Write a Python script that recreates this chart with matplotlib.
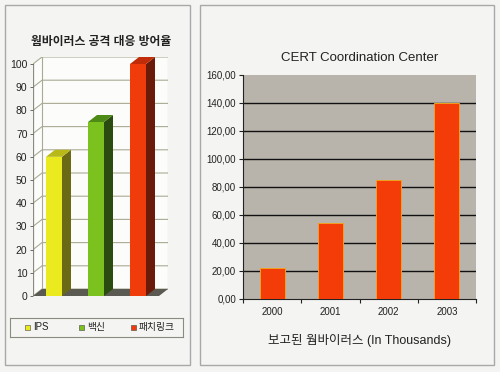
import matplotlib
matplotlib.use("Agg")
import matplotlib.pyplot as plt
from matplotlib.patches import Rectangle, Polygon

plt.rcParams['font.family'] = ['Liberation Sans', 'Noto Sans CJK KR', 'DejaVu Sans']

# ---- data ----
left_title = "웜바이러스 공격 대응 방어율"
left_categories = ["IPS", "백신", "패치링크"]
left_values = [60, 75, 100]
left_yticks = [0, 10, 20, 30, 40, 50, 60, 70, 80, 90, 100]

right_title = "CERT Coordination Center"
right_categories = ["2000", "2001", "2002", "2003"]
right_values = [22.5, 54, 85, 140]
right_yticks = [0, 20, 40, 60, 80, 100, 120, 140, 160]
right_ytick_labels = ["0,00", "20,00", "40,00", "60,00", "80,00", "100,00",
                      "120,00", "140,00", "160,00"]
right_xlabel = "보고된 웜바이러스 (In Thousands)"

W, H = 500, 372
fig = plt.figure(figsize=(W / 100, H / 100), dpi=100)
fig.patch.set_facecolor("#f4f4f2")

def frac(x0, y0, x1, y1):
    return [x0 / W, 1 - y1 / H, (x1 - x0) / W, (y1 - y0) / H]

# panel borders
bg = fig.add_axes([0, 0, 1, 1])
bg.set_xlim(0, W); bg.set_ylim(H, 0); bg.axis("off")
bg.add_patch(Rectangle((5, 5), 185, 360, fill=False, ec="#a8a8a8", lw=1))
bg.add_patch(Rectangle((200, 5), 294, 360, fill=False, ec="#a8a8a8", lw=1))

# ---------------- left 3D-like chart ----------------
front_faces = ["#eaea1e", "#7cc21e", "#f03c0a"]
side_faces = ["#6a6a14", "#2a4c10", "#6a1a08"]
top_faces = ["#b8b818", "#4e8a16", "#c02c08"]
grid_c = "#aaaa94"

fig.text(101 / W, 1 - 42 / H, left_title, ha="center", va="center",
         fontsize=8.5, fontweight="bold", color="#222222")

axL = fig.add_axes(frac(33, 57, 168, 296))
px_per_unit_y = (296 - 64) / 100.0
px_per_cat = 42.0
dy = 7 / px_per_unit_y
dx = 9 / px_per_cat
x0, x1 = -0.5, 2.5
axL.set_xlim(x0, (168 - 54) / px_per_cat)
axL.set_ylim(0, 100 + (64 - 57) / px_per_unit_y)
axL.set_facecolor("none")
for s in axL.spines.values():
    s.set_visible(False)

# back wall background
axL.add_patch(Polygon([(x0, 0), (x0 + dx, dy), (x1 + dx, dy), (x1 + dx, 100 + dy),
                       (x0 + dx, 100 + dy), (x0, 100)], closed=True,
                      fc="#fcfcfa", ec="none", zorder=0))
for v in left_yticks:
    axL.plot([x0, x0 + dx, x1 + dx], [v, v + dy, v + dy], color=grid_c, lw=0.8, zorder=1)
axL.plot([x0 + dx, x0 + dx], [dy, 100 + dy], color=grid_c, lw=0.8, zorder=1)
axL.plot([x1 + dx, x1 + dx], [dy, 100 + dy], color=grid_c, lw=0.8, zorder=1)
axL.plot([x0, x0], [0, 100], color="#8a8a80", lw=0.9, zorder=1)
# floor
axL.add_patch(Polygon([(x0, 0), (x1, 0), (x1 + dx, dy), (x0 + dx, dy)], closed=True,
                      fc="#5a5a52", ec="none", zorder=2))

bw = 16 / px_per_cat
xs = list(range(len(left_categories)))
axL.bar(xs, left_values, width=bw, color=front_faces, edgecolor="none", zorder=4)
for i, v in enumerate(left_values):
    xl, xr = i - bw / 2, i + bw / 2
    axL.add_patch(Polygon([(xr, 0), (xr + dx, dy), (xr + dx, v + dy), (xr, v)],
                          closed=True, fc=side_faces[i], ec="none", zorder=3))
    axL.add_patch(Polygon([(xl, v), (xr, v), (xr + dx, v + dy), (xl + dx, v + dy)],
                          closed=True, fc=top_faces[i], ec="none", zorder=3))

axL.set_xticks([])
axL.set_yticks(left_yticks)
axL.set_yticklabels([str(v) for v in left_yticks], fontsize=7.5, color="#222222")
axL.tick_params(axis="y", length=2, width=0.6, color="#555555", pad=2)

# legend
legL = fig.add_axes(frac(10, 318, 183, 337))
legL.set_xlim(10, 183); legL.set_ylim(337, 318)
legL.set_xticks([]); legL.set_yticks([])
legL.set_facecolor("#f4f4f2")
for s in legL.spines.values():
    s.set_color("#8a8a80"); s.set_linewidth(0.8)
leg_x = [25, 79, 131]
for i, name in enumerate(left_categories):
    legL.add_patch(Rectangle((leg_x[i], 325), 5, 5, fc=front_faces[i], ec="#444444", lw=0.4))
    legL.text(leg_x[i] + 8, 327.5, name, fontsize=7, va="center", ha="left", color="#222222")

# ---------------- right chart ----------------
axR = fig.add_axes(frac(243, 75, 476, 299))
axR.set_facecolor("#b8b4ac")
xr_pos = list(range(len(right_categories)))
axR.bar(xr_pos, right_values, width=0.43, color="#f43c08", edgecolor="#f0a020",
        linewidth=0.7, zorder=3)
axR.set_xlim(-0.5, len(right_categories) - 0.5)
axR.set_ylim(0, 160)
axR.set_yticks(right_yticks)
axR.set_yticklabels(right_ytick_labels, fontsize=7, color="#222222")
for v in right_yticks[1:-1]:
    axR.axhline(v, color="#111111", lw=1.0, zorder=2)
axR.set_xticks(xr_pos)
axR.set_xticklabels(right_categories, fontsize=7, color="#222222")
axR.set_xticks([i - 0.5 for i in range(len(right_categories) + 1)], minor=True)
axR.tick_params(axis="x", which="major", length=0, pad=6)
axR.tick_params(axis="x", which="minor", length=3, width=0.8, color="#222222")
axR.tick_params(axis="y", length=3, width=0.8, color="#222222", pad=2)
for side in ["top", "right"]:
    axR.spines[side].set_visible(False)
axR.spines["left"].set_color("#222222")
axR.spines["bottom"].set_color("#222222")
axR.set_title(right_title, fontsize=9.5, color="#222222", pad=10)
axR.set_xlabel(right_xlabel, fontsize=9, color="#222222", labelpad=12)

fig.savefig("out.png", dpi=100, facecolor=fig.get_facecolor())
